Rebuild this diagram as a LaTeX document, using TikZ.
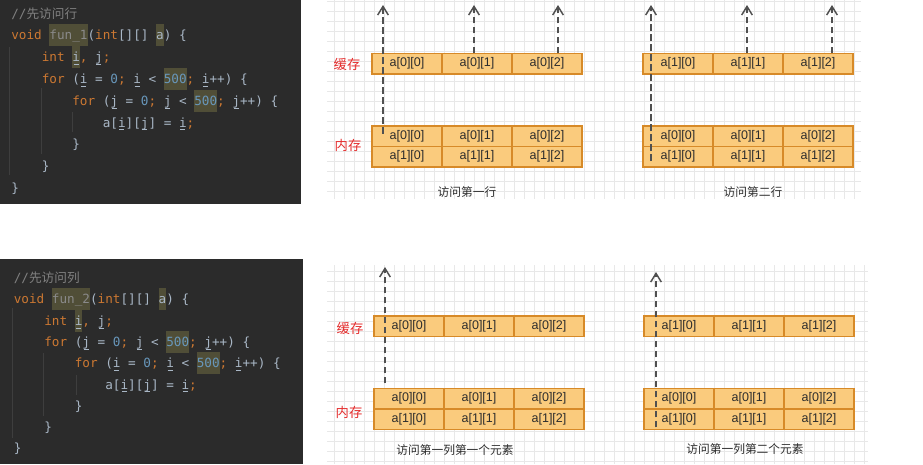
\documentclass[tikz,border=0pt]{standalone}
\usepackage{fontspec}
\usepackage{xcolor}
\usetikzlibrary{arrows.meta,positioning,calc}
\newfontfamily\cjk{Noto Sans CJK SC}
\newfontfamily\cellfont{Liberation Sans}
\newfontfamily\codefont[WordSpace={1,0,0}]{DejaVu Sans Mono}
\definecolor{codebg}{RGB}{43,43,43}
\definecolor{ckw}{RGB}{204,120,50}
\definecolor{cnum}{RGB}{104,151,187}
\definecolor{ctext}{RGB}{169,183,198}
\definecolor{ccom}{RGB}{128,128,128}
\definecolor{cfun}{RGB}{138,138,138}
\definecolor{hlbg}{RGB}{80,78,55}
\definecolor{guide}{RGB}{62,62,62}
\definecolor{gridgray}{RGB}{232,232,232}
\definecolor{cellfill}{RGB}{250,203,125}
\definecolor{cellline}{RGB}{215,138,40}
\definecolor{celltext}{RGB}{45,45,45}
\definecolor{tagred}{RGB}{228,45,45}
\definecolor{arrowgray}{RGB}{80,80,80}
\newcommand{\kw}[1]{\textcolor{ckw}{#1}}
\newcommand{\nm}[1]{\textcolor{cnum}{#1}}
\newcommand{\hl}[1]{{\setlength{\fboxsep}{0pt}\colorbox{hlbg}{\rule[-4.8pt]{0pt}{16.3pt}#1}}}
\newcommand{\uv}[1]{\makebox[0pt][l]{\hspace{0.1em}\rule[-2.2pt]{0.4em}{0.4pt}}#1}
\newcommand{\ind}{\phantom{xxxx}}

\begin{document}
\begin{tikzpicture}[x=0.75pt,y=-0.75pt,
    codeline/.style={anchor=base west,inner sep=0pt,text=ctext,
      font=\codefont\fontsize{9.5pt}{11pt}\selectfont\frenchspacing},
    cell/.style={draw=cellline,fill=cellfill,line width=1.2pt,outer sep=0pt,
      minimum width=52.5pt,minimum height=15.4pt,inner sep=0pt,text=celltext,
      font=\cellfont\fontsize{9.4pt}{10pt}\selectfont},
    tag/.style={text=tagred,inner sep=0pt,font=\cjk\fontsize{10pt}{12pt}\selectfont},
    caption/.style={text=celltext,inner sep=0pt,font=\cjk\fontsize{8.8pt}{10pt}\selectfont},
    access/.style={draw=arrowgray,line width=1.1pt,dash pattern=on 5pt off 2.5pt,
      -{Straight Barb[length=6.5pt,width=8pt]}},
    gridline/.style={gridgray,line width=0.5pt}]
  \useasboundingbox (0,0) rectangle (923,464);

  % code panels
  \fill[codebg] (0,0) rectangle (301,204);
  \fill[codebg] (0,259) rectangle (303,464);
  \draw[guide] (9,47) -- (9,175);
  \draw[guide] (41,88) -- (41,154);
  \draw[guide] (72.7,112) -- (72.7,132);
  \draw[guide] (12.3,308) -- (12.3,438);
  \draw[guide] (43.3,353) -- (43.3,416);
  \draw[guide] (76,375) -- (76,395);

  \node[codeline] (ra1) at (11,18) {\textcolor{ccom}{//{\cjk 先访问行}}};
  \node[codeline] (ra2) at (11,39.8) {\kw{void} \hl{\textcolor{cfun}{fun\_1}}(\kw{int}[][] \hl{a}) \{};
  \node[codeline] (ra3) at (11,61.6) {\ind\kw{int} \hl{\uv{i}}\kw{,} \uv{j}\kw{;}};
  \node[codeline] (ra4) at (11,83.4) {\ind\kw{for} (\uv{i} = \nm{0}\kw{;} \uv{i} < \hl{\nm{500}}\kw{;} \uv{i}++) \{};
  \node[codeline] (ra5) at (11,105.2) {\ind\ind\kw{for} (\uv{j} = \nm{0}\kw{;} \uv{j} < \hl{\nm{500}}\kw{;} \uv{j}++) \{};
  \node[codeline] (ra6) at (11,127) {\ind\ind\ind a[\uv{i}][\uv{j}] = \uv{i}\kw{;}};
  \node[codeline] (ra7) at (11,148.8) {\ind\ind\}};
  \node[codeline] (ra8) at (11,170.6) {\ind\}};
  \node[codeline] (ra9) at (11,192.4) {\}};

  \node[codeline] (co1) at (13.5,282.5) {\textcolor{ccom}{//{\cjk 先访问列}}};
  \node[codeline] (co2) at (13.5,303.8) {\kw{void} \hl{\textcolor{cfun}{fun\_2}}(\kw{int}[][] \hl{a}) \{};
  \node[codeline] (co3) at (13.5,325.1) {\ind\kw{int} \hl{\uv{i}}\kw{,} \uv{j}\kw{;}};
  \node[codeline] (co4) at (13.5,346.4) {\ind\kw{for} (\uv{j} = \nm{0}\kw{;} \uv{j} < \hl{\nm{500}}\kw{;} \uv{j}++) \{};
  \node[codeline] (co5) at (13.5,367.7) {\ind\ind\kw{for} (\uv{i} = \nm{0}\kw{;} \uv{i} < \hl{\nm{500}}\kw{;} \uv{i}++) \{};
  \node[codeline] (co6) at (13.5,389) {\ind\ind\ind a[\uv{i}][\uv{j}] = \uv{i}\kw{;}};
  \node[codeline] (co7) at (13.5,410.3) {\ind\ind\}};
  \node[codeline] (co8) at (13.5,431.6) {\ind\}};
  \node[codeline] (co9) at (13.5,452.9) {\}};

  % grid backgrounds
  \foreach \x in {334.3,344.3,...,860} \draw[gridline] (\x,0) -- (\x,199);
  \foreach \y in {1.7,11.7,...,199} \draw[gridline] (327,\y) -- (861,\y);
  \foreach \x in {334.3,344.3,...,867} \draw[gridline] (\x,265) -- (\x,464);
  \foreach \y in {271.7,281.7,...,464} \draw[gridline] (327,\y) -- (868,\y);

  % row access
  \foreach \j in {0,1,2} {
    \node[cell] (pc\j) at ({407+70*\j},63.6) {a[0][\j]};
    \node[cell] (qc\j) at ({678+70*\j},63.6) {a[1][\j]};
    \foreach \i in {0,1} {
      \node[cell] (pm\i\j) at ({407+70*\j},{136.25+20.5*\i}) {a[\i][\j]};
      \node[cell] (qm\i\j) at ({678+70*\j},{136.25+20.5*\i}) {a[\i][\j]};
    }
  }
  \node[tag] (pcache) at (347,64) {缓存};
  \node[tag] (pmem) at (348,145) {内存};
  \node[caption] (pcap) at (467,192) {访问第一行};
  \node[caption] (qcap) at (753,192) {访问第二行};

  \coordinate (pt0) at (383,5);
  \coordinate (pt1) at (474,5);
  \coordinate (pt2) at (558,5);
  \coordinate (qt0) at (651,5);
  \coordinate (qt1) at (747,5);
  \coordinate (qt2) at (832,5);
  \draw[access,shorten <=2pt] (pm00.center -| pt0) -- (pt0);
  \draw[access] (pc1.north -| pt1) -- (pt1);
  \draw[access] (pc2.north -| pt2) -- (pt2);
  \draw[access,shorten <=4.5pt] (qm10.south -| qt0) -- (qt0);
  \draw[access] (qc1.north -| qt1) -- (qt1);
  \draw[access] (qc2.north -| qt2) -- (qt2);

  % column access
  \foreach \j in {0,1,2} {
    \node[cell] (rc\j) at ({409+70*\j},326.4) {a[0][\j]};
    \node[cell] (sc\j) at ({679+70*\j},326.4) {a[1][\j]};
    \foreach \i in {0,1} {
      \node[cell] (rm\i\j) at ({409+70*\j},{398.6+20.5*\i}) {a[\i][\j]};
      \node[cell] (sm\i\j) at ({679+70*\j},{398.6+20.5*\i}) {a[\i][\j]};
    }
  }
  \node[tag] (rcache) at (350,328) {缓存};
  \node[tag] (rmem) at (349,412) {内存};
  \node[caption] (rcap) at (455,450) {访问第一列第一个元素};
  \node[caption] (scap) at (745,449) {访问第一列第二个元素};

  \coordinate (rt0) at (385,267);
  \coordinate (st0) at (656,272);
  \draw[access,shorten <=3.75pt] (rm00.north -| rt0) -- (rt0);
  \draw[access,shorten <=1.5pt] (sm10.south -| st0) -- (st0);
\end{tikzpicture}
\end{document}
